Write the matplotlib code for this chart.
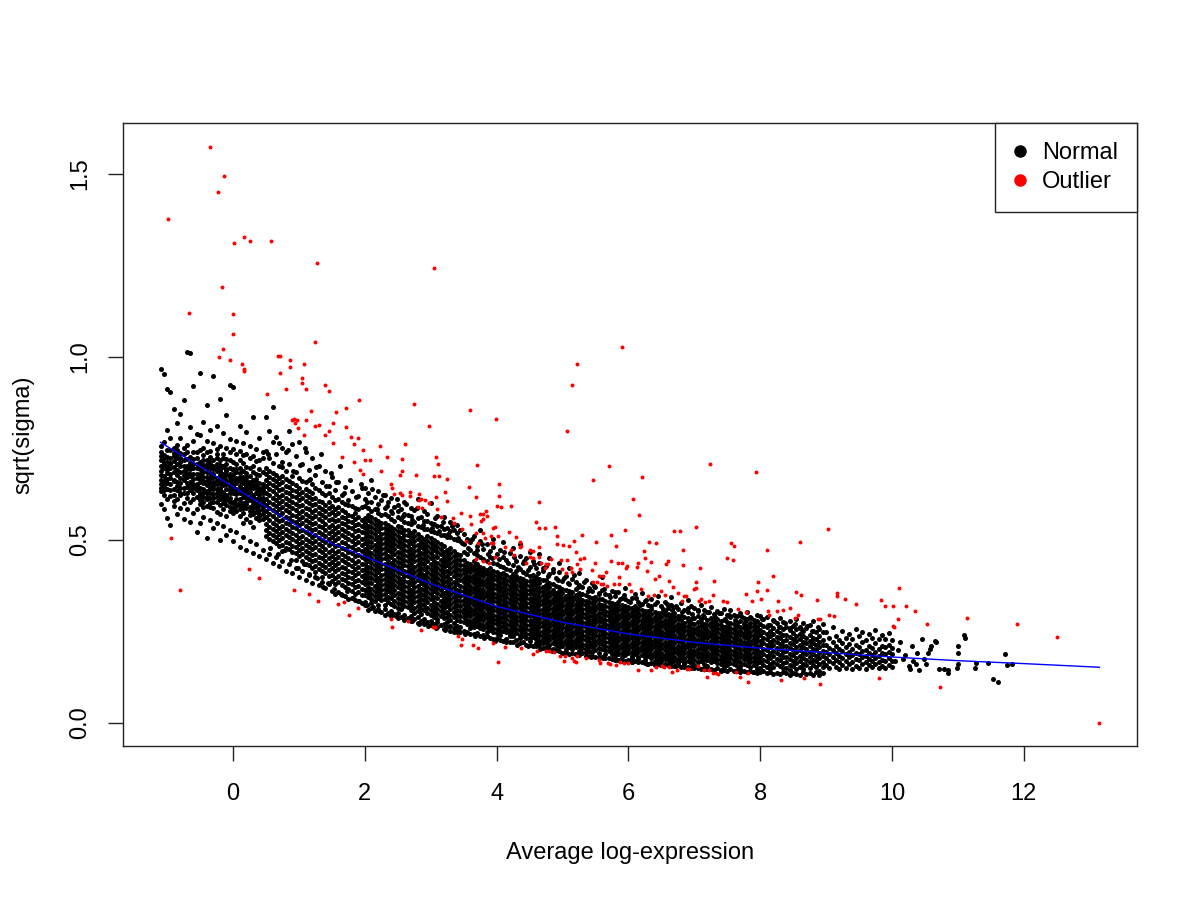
import matplotlib
matplotlib.use("Agg")
import matplotlib.pyplot as plt
from matplotlib.lines import Line2D

plt.rcParams["font.family"] = ["Liberation Sans", "DejaVu Sans"]

# ---- normal genes (y in 1/1000) ----
cols_a_x = [-1.10, -1.05, -1.00, -0.95, -0.90, -0.85, -0.80, -0.75, -0.70, -0.65, -0.60, -0.55]
cols_a_y = [
    [652, 718, 689, 741, 633, 967, 702, 664, 598, 757, 676, 729, 641],
    [675, 623, 731, 695, 952, 648, 584, 709, 766, 660, 699, 637, 722],
    [611, 744, 683, 702, 656, 801, 913, 559, 727, 638, 665, 712, 690],
    [697, 652, 778, 619, 724, 903, 541, 668, 711, 746, 681, 636, 708],
    [640, 715, 684, 593, 752, 857, 662, 729, 607, 699, 661, 737, 622],
    [723, 658, 612, 691, 819, 744, 636, 677, 571, 760, 706, 648, 733],
    [669, 701, 627, 843, 738, 586, 654, 712, 779, 621, 686, 642, 724],
    [688, 642, 719, 881, 663, 601, 735, 676, 558, 752, 701, 665, 627],
    [654, 1014, 697, 628, 721, 583, 671, 759, 702, 615, 683, 739, 644],
    [711, 1011, 637, 674, 548, 692, 808, 726, 659, 602, 698, 646, 681],
    [628, 919, 681, 706, 574, 653, 739, 695, 612, 770, 667, 721, 641],
    [669, 617, 722, 521, 648, 789, 697, 583, 741, 636, 681, 706, 652],
]

cols_b_x = [-0.50, -0.45, -0.40, -0.35, -0.30, -0.25, -0.20, -0.15, -0.10, -0.05,
            0.00, 0.05, 0.10, 0.15, 0.20, 0.25, 0.30, 0.35, 0.40, 0.45]
cols_b_y = [
    [642, 598, 713, 681, 955, 623, 744, 547, 666, 702, 786, 610, 659, 671, 627, 692],
    [671, 617, 822, 640, 698, 562, 731, 655, 604, 718, 684, 752, 589, 629, 703, 660],
    [628, 686, 869, 593, 707, 650, 506, 739, 611, 672, 771, 634, 697, 661, 617, 718],
    [655, 714, 601, 683, 553, 742, 627, 800, 668, 589, 706, 641, 725, 669, 615, 695],
    [613, 947, 672, 638, 701, 531, 659, 764, 586, 692, 624, 719, 648, 680, 602, 656],
    [688, 603, 734, 651, 811, 577, 662, 706, 545, 627, 695, 616, 748, 640, 668, 722],
    [637, 884, 596, 676, 718, 499, 654, 611, 757, 689, 570, 641, 703, 667, 624, 690],
    [669, 612, 791, 630, 698, 538, 724, 649, 585, 681, 617, 733, 601, 657, 702, 627],
    [594, 842, 651, 707, 623, 513, 676, 752, 608, 639, 688, 565, 721, 664, 620, 694],
    [647, 603, 924, 681, 578, 718, 629, 776, 660, 527, 695, 614, 741, 637, 671, 589],
    [629, 918, 572, 665, 604, 747, 690, 496, 641, 713, 586, 655, 677, 601, 646, 692],
    [612, 686, 655, 521, 733, 598, 771, 640, 669, 579, 707, 626, 694, 663, 637, 591],
    [661, 583, 811, 628, 697, 479, 742, 604, 648, 719, 565, 682, 635, 611, 672, 594],
    [594, 709, 640, 763, 573, 655, 509, 687, 618, 731, 601, 668, 546, 628, 672, 586],
    [637, 795, 588, 671, 614, 734, 471, 652, 699, 557, 625, 683, 602, 648, 599, 662],
    [579, 658, 613, 757, 696, 496, 641, 568, 722, 630, 609, 675, 548, 590, 651, 627],
    [622, 834, 571, 684, 598, 728, 463, 649, 535, 663, 606, 701, 587, 618, 641, 575],
    [648, 560, 749, 603, 681, 489, 627, 590, 714, 641, 575, 666, 612, 602, 628, 657],
    [596, 777, 634, 553, 676, 615, 719, 457, 642, 581, 694, 609, 566, 621, 570, 655],
    [612, 557, 741, 637, 589, 686, 473, 651, 604, 723, 570, 629, 598, 581, 644, 613],
]

cols_c_x = [0.50, 0.55, 0.60, 0.65, 0.70, 0.75, 0.80, 0.85, 0.90, 0.95,
            1.00, 1.05, 1.10, 1.15, 1.20, 1.25, 1.30, 1.35, 1.40, 1.45,
            1.50, 1.55, 1.60, 1.65, 1.70, 1.75, 1.80, 1.85, 1.90, 1.95]
cols_c_y = [
    [510, 527, 544, 561, 578, 595, 612, 629, 646, 663, 680, 697, 447, 742, 836],
    [502, 519, 536, 553, 570, 587, 604, 621, 638, 655, 672, 689, 462, 722, 798],
    [496, 513, 530, 547, 564, 581, 598, 615, 632, 649, 666, 683, 436, 711, 862],
    [490, 507, 524, 541, 558, 575, 592, 609, 626, 643, 660, 677, 452, 733, 781],
    [482, 499, 516, 533, 550, 567, 584, 601, 618, 635, 652, 669, 428, 701, 764],
    [470, 487, 504, 521, 538, 555, 572, 589, 606, 623, 640, 657, 674, 441, 698, 752],
    [478, 495, 512, 529, 546, 563, 580, 597, 614, 631, 648, 665, 414, 689, 739],
    [474, 491, 508, 525, 542, 559, 576, 593, 610, 627, 644, 661, 433, 706, 797],
    [467, 484, 501, 518, 535, 552, 569, 586, 603, 620, 637, 654, 409, 675, 761],
    [446, 463, 480, 497, 514, 531, 548, 565, 582, 599, 616, 633, 650, 423, 684, 729],
    [455, 472, 489, 506, 523, 540, 557, 574, 591, 608, 625, 642, 398, 668, 768],
    [443, 460, 477, 494, 511, 528, 545, 562, 579, 596, 613, 630, 415, 661, 707],
    [435, 452, 469, 486, 503, 520, 537, 554, 571, 588, 605, 622, 639, 391, 658, 741],
    [430, 447, 464, 481, 498, 515, 532, 549, 566, 583, 600, 617, 634, 406, 662, 690],
    [424, 441, 458, 475, 492, 509, 526, 543, 560, 577, 594, 611, 628, 383, 653, 722],
    [411, 428, 445, 462, 479, 496, 513, 530, 547, 564, 581, 598, 615, 399, 641, 676],
    [420, 437, 454, 471, 488, 505, 522, 539, 556, 573, 590, 607, 377, 636, 702],
    [398, 415, 432, 449, 466, 483, 500, 517, 534, 551, 568, 585, 602, 386, 629, 657],
    [408, 425, 442, 459, 476, 493, 510, 527, 544, 561, 578, 595, 368, 622, 688],
    [400, 417, 434, 451, 468, 485, 502, 519, 536, 553, 570, 587, 604, 379, 628, 648],
    [388, 405, 422, 439, 456, 473, 490, 507, 524, 541, 558, 575, 592, 361, 617, 672],
    [380, 397, 414, 431, 448, 465, 482, 499, 516, 533, 550, 567, 584, 352, 609, 635],
    [385, 402, 419, 436, 453, 470, 487, 504, 521, 538, 555, 572, 589, 358, 612, 659],
    [376, 393, 410, 427, 444, 461, 478, 495, 512, 529, 546, 563, 580, 349, 603, 621],
    [372, 389, 406, 423, 440, 457, 474, 491, 508, 525, 542, 559, 576, 346, 598, 645],
    [365, 382, 399, 416, 433, 450, 467, 484, 501, 518, 535, 552, 569, 338, 596, 608],
    [361, 378, 395, 412, 429, 446, 463, 480, 497, 514, 531, 548, 565, 341, 592, 632],
    [353, 370, 387, 404, 421, 438, 455, 472, 489, 506, 523, 540, 557, 574, 335, 588],
    [357, 374, 391, 408, 425, 442, 459, 476, 493, 510, 527, 544, 561, 333, 585, 619],
    [350, 367, 384, 401, 418, 435, 452, 469, 486, 503, 520, 537, 554, 328, 589, 641],
]

cols_d_x = [2.00, 2.05, 2.10, 2.15, 2.20, 2.25, 2.30, 2.35, 2.40, 2.45,
            2.50, 2.55, 2.60, 2.65, 2.70, 2.75, 2.80, 2.85, 2.90, 2.95,
            3.00, 3.05, 3.10, 3.15, 3.20, 3.25, 3.30, 3.35, 3.40, 3.45]
cols_d_y = [
    [350, 364, 378, 392, 406, 420, 434, 448, 462, 476, 490, 504, 518, 532, 546, 560, 322, 331, 593, 612, 641],
    [343, 357, 371, 385, 399, 413, 427, 441, 455, 469, 483, 497, 511, 525, 539, 553, 567, 309, 586, 628],
    [339, 353, 367, 381, 395, 409, 423, 437, 451, 465, 479, 493, 507, 521, 535, 549, 563, 315, 327, 579, 603, 663],
    [333, 347, 361, 375, 389, 403, 417, 431, 445, 459, 473, 487, 501, 515, 529, 543, 557, 306, 584, 618],
    [341, 355, 369, 383, 397, 411, 425, 439, 453, 467, 481, 495, 509, 523, 537, 551, 312, 321, 574, 597, 632],
    [335, 349, 363, 377, 391, 405, 419, 433, 447, 461, 475, 489, 503, 517, 531, 545, 302, 568, 609],
    [323, 337, 351, 365, 379, 393, 407, 421, 435, 449, 463, 477, 491, 505, 519, 533, 547, 296, 311, 571, 588, 621],
    [331, 345, 359, 373, 387, 401, 415, 429, 443, 457, 471, 485, 499, 513, 527, 541, 301, 566, 604],
    [326, 340, 354, 368, 382, 396, 410, 424, 438, 452, 466, 480, 494, 508, 522, 536, 291, 305, 558, 579, 613],
    [320, 334, 348, 362, 376, 390, 404, 418, 432, 446, 460, 474, 488, 502, 516, 530, 297, 552, 589],
    [314, 328, 342, 356, 370, 384, 398, 412, 426, 440, 454, 468, 482, 496, 510, 524, 538, 287, 299, 561, 578, 596],
    [310, 324, 338, 352, 366, 380, 394, 408, 422, 436, 450, 464, 478, 492, 506, 520, 534, 288, 556, 584],
    [318, 332, 346, 360, 374, 388, 402, 416, 430, 444, 458, 472, 486, 500, 514, 528, 281, 294, 549, 571, 602],
    [316, 330, 344, 358, 372, 386, 400, 414, 428, 442, 456, 470, 484, 498, 512, 526, 286, 545, 569],
    [308, 322, 336, 350, 364, 378, 392, 406, 420, 434, 448, 462, 476, 490, 504, 518, 279, 292, 543, 566, 587],
    [301, 315, 329, 343, 357, 371, 385, 399, 413, 427, 441, 455, 469, 483, 497, 511, 525, 283, 548, 581],
    [305, 319, 333, 347, 361, 375, 389, 403, 417, 431, 445, 459, 473, 487, 501, 515, 274, 288, 538, 559, 612],
    [297, 311, 325, 339, 353, 367, 381, 395, 409, 423, 437, 451, 465, 479, 493, 507, 279, 534, 563],
    [307, 321, 335, 349, 363, 377, 391, 405, 419, 433, 447, 461, 475, 489, 503, 271, 283, 530, 551, 578],
    [301, 315, 329, 343, 357, 371, 385, 399, 413, 427, 441, 455, 469, 483, 497, 511, 276, 529, 552],
    [295, 309, 323, 337, 351, 365, 379, 393, 407, 421, 435, 449, 463, 477, 491, 505, 268, 279, 524, 547, 601],
    [289, 303, 317, 331, 345, 359, 373, 387, 401, 415, 429, 443, 457, 471, 485, 499, 271, 521, 542],
    [284, 298, 312, 326, 340, 354, 368, 382, 396, 410, 424, 438, 452, 466, 480, 494, 263, 275, 518, 539, 566],
    [292, 306, 320, 334, 348, 362, 376, 390, 404, 418, 432, 446, 460, 474, 488, 268, 514, 537],
    [286, 300, 314, 328, 342, 356, 370, 384, 398, 412, 426, 440, 454, 468, 482, 257, 269, 512, 529, 561],
    [276, 290, 304, 318, 332, 346, 360, 374, 388, 402, 416, 430, 444, 458, 472, 262, 508, 533],
    [282, 296, 310, 324, 338, 352, 366, 380, 394, 408, 422, 436, 450, 464, 478, 252, 264, 507, 524, 548],
    [274, 288, 302, 316, 330, 344, 358, 372, 386, 400, 414, 428, 442, 456, 470, 258, 503, 528],
    [266, 280, 294, 308, 322, 336, 350, 364, 378, 392, 406, 420, 434, 448, 462, 247, 254, 499, 518, 541],
    [263, 277, 291, 305, 319, 333, 347, 361, 375, 389, 403, 417, 431, 445, 459, 249, 497, 526],
]

cols_e_x = [3.50, 3.55, 3.60, 3.65, 3.70, 3.75, 3.80, 3.85, 3.90, 3.95,
            4.00, 4.05, 4.10, 4.15, 4.20, 4.25, 4.30, 4.35, 4.40, 4.45,
            4.50, 4.55, 4.60, 4.65, 4.70, 4.75, 4.80, 4.85, 4.90, 4.95,
            5.00, 5.05, 5.10, 5.15, 5.20, 5.25, 5.30, 5.35, 5.40, 5.45,
            5.50, 5.55, 5.60, 5.65, 5.70, 5.75, 5.80, 5.85, 5.90, 5.95,
            6.00, 6.05, 6.10, 6.15, 6.20, 6.25, 6.30, 6.35, 6.40, 6.45,
            6.50, 6.55, 6.60, 6.65, 6.70, 6.75, 6.80, 6.85, 6.90, 6.95]
cols_e_y = [
    [276, 288, 300, 312, 324, 336, 348, 360, 372, 384, 396, 408, 420, 432, 444, 251, 468, 489, 517],
    [270, 282, 294, 306, 318, 330, 342, 354, 366, 378, 390, 402, 414, 426, 438, 248, 461, 502],
    [267, 279, 291, 303, 315, 327, 339, 351, 363, 375, 387, 399, 411, 423, 435, 244, 258, 472, 495],
    [261, 273, 285, 297, 309, 321, 333, 345, 357, 369, 381, 393, 405, 417, 429, 441, 242, 464, 511],
    [265, 277, 289, 301, 313, 325, 337, 349, 361, 373, 385, 397, 409, 421, 433, 246, 459, 483],
    [259, 271, 283, 295, 307, 319, 331, 343, 355, 367, 379, 391, 403, 415, 427, 238, 452, 497, 526],
    [256, 268, 280, 292, 304, 316, 328, 340, 352, 364, 376, 388, 400, 412, 424, 240, 448, 476],
    [262, 274, 286, 298, 310, 322, 334, 346, 358, 370, 382, 394, 406, 418, 236, 249, 441, 488],
    [254, 266, 278, 290, 302, 314, 326, 338, 350, 362, 374, 386, 398, 410, 422, 233, 453, 469],
    [248, 260, 272, 284, 296, 308, 320, 332, 344, 356, 368, 380, 392, 404, 416, 229, 437, 481, 503],
    [245, 257, 269, 281, 293, 305, 317, 329, 341, 353, 365, 377, 389, 401, 413, 231, 434, 462],
    [251, 263, 275, 287, 299, 311, 323, 335, 347, 359, 371, 383, 395, 407, 227, 240, 429, 471],
    [252, 264, 276, 288, 300, 312, 324, 336, 348, 360, 372, 384, 396, 408, 225, 427, 452, 493],
    [247, 259, 271, 283, 295, 307, 319, 331, 343, 355, 367, 379, 391, 403, 230, 421, 446],
    [243, 255, 267, 279, 291, 303, 315, 327, 339, 351, 363, 375, 387, 399, 222, 236, 417, 464],
    [238, 250, 262, 274, 286, 298, 310, 322, 334, 346, 358, 370, 382, 394, 406, 220, 431, 478],
    [245, 257, 269, 281, 293, 305, 317, 329, 341, 353, 365, 377, 389, 401, 226, 414, 442],
    [241, 253, 265, 277, 289, 301, 313, 325, 337, 349, 361, 373, 385, 397, 218, 232, 419, 457, 489],
    [236, 248, 260, 272, 284, 296, 308, 320, 332, 344, 356, 368, 380, 392, 221, 411, 436],
    [232, 244, 256, 268, 280, 292, 304, 316, 328, 340, 352, 364, 376, 388, 214, 407, 449],
    [231, 243, 255, 267, 279, 291, 303, 315, 327, 339, 351, 363, 375, 387, 213, 224, 401, 426, 468],
    [234, 246, 258, 270, 282, 294, 306, 318, 330, 342, 354, 366, 378, 390, 211, 405, 441],
    [230, 242, 254, 266, 278, 290, 302, 314, 326, 338, 350, 362, 374, 386, 209, 219, 398, 422],
    [225, 237, 249, 261, 273, 285, 297, 309, 321, 333, 345, 357, 369, 381, 212, 394, 437, 462],
    [228, 240, 252, 264, 276, 288, 300, 312, 324, 336, 348, 360, 372, 205, 217, 389, 414],
    [221, 233, 245, 257, 269, 281, 293, 305, 317, 329, 341, 353, 365, 377, 207, 391, 428],
    [226, 238, 250, 262, 274, 286, 298, 310, 322, 334, 346, 358, 370, 201, 212, 383, 407, 451],
    [219, 231, 243, 255, 267, 279, 291, 303, 315, 327, 339, 351, 363, 203, 379, 419],
    [212, 224, 236, 248, 260, 272, 284, 296, 308, 320, 332, 344, 356, 198, 373, 396],
    [217, 229, 241, 253, 265, 277, 289, 301, 313, 325, 337, 349, 361, 196, 206, 371, 412, 438],
    [210, 222, 234, 246, 258, 270, 282, 294, 306, 318, 330, 342, 354, 192, 367, 388],
    [215, 227, 239, 251, 263, 275, 287, 299, 311, 323, 335, 347, 194, 203, 363, 401],
    [208, 220, 232, 244, 256, 268, 280, 292, 304, 316, 328, 340, 352, 189, 361, 379, 423],
    [213, 225, 237, 249, 261, 273, 285, 297, 309, 321, 333, 345, 191, 201, 358, 394],
    [206, 218, 230, 242, 254, 266, 278, 290, 302, 314, 326, 338, 350, 187, 366, 384],
    [211, 223, 235, 247, 259, 271, 283, 295, 307, 319, 331, 343, 186, 197, 355, 377, 409],
    [204, 216, 228, 240, 252, 264, 276, 288, 300, 312, 324, 336, 190, 352, 372],
    [202, 214, 226, 238, 250, 262, 274, 286, 298, 310, 322, 334, 184, 195, 348, 391],
    [197, 209, 221, 233, 245, 257, 269, 281, 293, 305, 317, 329, 182, 345, 368],
    [207, 219, 231, 243, 255, 267, 279, 291, 303, 315, 327, 183, 193, 341, 359, 382],
    [200, 212, 224, 236, 248, 260, 272, 284, 296, 308, 320, 332, 180, 344, 371],
    [205, 217, 229, 241, 253, 265, 277, 289, 301, 313, 325, 179, 190, 338, 356],
    [203, 215, 227, 239, 251, 263, 275, 287, 299, 311, 323, 181, 337, 363, 398],
    [198, 210, 222, 234, 246, 258, 270, 282, 294, 306, 318, 176, 188, 333, 352],
    [196, 208, 220, 232, 244, 256, 268, 280, 292, 304, 316, 178, 329, 349],
    [189, 201, 213, 225, 237, 249, 261, 273, 285, 297, 309, 321, 174, 328, 361],
    [194, 206, 218, 230, 242, 254, 266, 278, 290, 302, 314, 173, 184, 325, 346],
    [187, 199, 211, 223, 235, 247, 259, 271, 283, 295, 307, 319, 171, 331, 357],
    [192, 204, 216, 228, 240, 252, 264, 276, 288, 300, 312, 170, 181, 322, 341],
    [185, 197, 209, 221, 233, 245, 257, 269, 281, 293, 305, 168, 318, 337, 368],
    [190, 202, 214, 226, 238, 250, 262, 274, 286, 298, 310, 172, 316, 334],
    [183, 195, 207, 219, 231, 243, 255, 267, 279, 291, 303, 166, 177, 313, 342],
    [188, 200, 212, 224, 236, 248, 260, 272, 284, 296, 308, 169, 319, 351],
    [181, 193, 205, 217, 229, 241, 253, 265, 277, 289, 301, 165, 175, 311, 329],
    [186, 198, 210, 222, 234, 246, 258, 270, 282, 294, 167, 309, 326, 356],
    [179, 191, 203, 215, 227, 239, 251, 263, 275, 287, 299, 163, 172, 306, 333],
    [184, 196, 208, 220, 232, 244, 256, 268, 280, 292, 161, 305, 321],
    [177, 189, 201, 213, 225, 237, 249, 261, 273, 285, 297, 164, 311, 338],
    [182, 194, 206, 218, 230, 242, 254, 266, 278, 290, 159, 170, 303, 324],
    [175, 187, 199, 211, 223, 235, 247, 259, 271, 283, 295, 162, 301, 347],
    [180, 192, 204, 216, 228, 240, 252, 264, 276, 288, 158, 168, 299, 318],
    [174, 186, 198, 210, 222, 234, 246, 258, 270, 282, 294, 160, 306, 329],
    [171, 183, 195, 207, 219, 231, 243, 255, 267, 279, 291, 157, 297, 314],
    [177, 189, 201, 213, 225, 237, 249, 261, 273, 285, 156, 166, 295, 322, 344],
    [169, 181, 193, 205, 217, 229, 241, 253, 265, 277, 289, 155, 301, 316],
    [175, 187, 199, 211, 223, 235, 247, 259, 271, 283, 159, 163, 293, 311],
    [172, 184, 196, 208, 220, 232, 244, 256, 268, 280, 154, 291, 327],
    [166, 178, 190, 202, 214, 226, 238, 250, 262, 274, 152, 161, 289, 308],
    [170, 182, 194, 206, 218, 230, 242, 254, 266, 278, 153, 287, 303, 336],
    [164, 176, 188, 200, 212, 224, 236, 248, 260, 272, 151, 285, 319],
]

cols_f_x = [7.00, 7.05, 7.10, 7.15, 7.20, 7.25, 7.30, 7.35, 7.40, 7.45,
            7.50, 7.55, 7.60, 7.65, 7.70, 7.75, 7.80, 7.85, 7.90, 7.95]
cols_f_y = [
    [173, 185, 197, 209, 221, 233, 245, 257, 269, 150, 158, 287, 314],
    [167, 179, 191, 203, 215, 227, 239, 251, 263, 275, 149, 292, 305],
    [168, 180, 192, 204, 216, 228, 240, 252, 264, 276, 147, 284, 321],
    [162, 174, 186, 198, 210, 222, 234, 246, 258, 270, 151, 289, 309],
    [171, 183, 195, 207, 219, 231, 243, 255, 267, 146, 155, 281, 302],
    [165, 177, 189, 201, 213, 225, 237, 249, 261, 273, 148, 286, 317],
    [169, 181, 193, 205, 217, 229, 241, 253, 265, 144, 279, 297],
    [163, 175, 187, 199, 211, 223, 235, 247, 259, 271, 149, 284, 306],
    [160, 172, 184, 196, 208, 220, 232, 244, 256, 268, 143, 277, 299],
    [166, 178, 190, 202, 214, 226, 238, 250, 262, 145, 152, 281, 312],
    [158, 170, 182, 194, 206, 218, 230, 242, 254, 266, 142, 276, 294],
    [164, 176, 188, 200, 212, 224, 236, 248, 260, 146, 272, 288, 308],
    [161, 173, 185, 197, 209, 221, 233, 245, 257, 141, 271, 296],
    [156, 168, 180, 192, 204, 216, 228, 240, 252, 264, 143, 274, 291],
    [155, 167, 179, 191, 203, 215, 227, 239, 251, 263, 140, 148, 278, 301],
    [162, 174, 186, 198, 210, 222, 234, 246, 258, 142, 269, 286],
    [159, 171, 183, 195, 207, 219, 231, 243, 255, 139, 266, 283, 304],
    [153, 165, 177, 189, 201, 213, 225, 237, 249, 261, 141, 272, 289],
    [157, 169, 181, 193, 205, 217, 229, 241, 253, 138, 264, 281],
    [151, 163, 175, 187, 199, 211, 223, 235, 247, 137, 146, 262, 277, 296],
]

cols_g_x = [8.00, 8.05, 8.10, 8.15, 8.20, 8.25, 8.30, 8.35, 8.40, 8.45,
            8.50, 8.55, 8.60, 8.65, 8.70, 8.75, 8.80, 8.85, 8.90, 8.95]
cols_g_y = [
    [150, 165, 180, 195, 210, 225, 240, 255, 138, 271, 292],
    [158, 173, 188, 203, 218, 233, 248, 141, 266, 284],
    [154, 169, 184, 199, 214, 229, 244, 136, 263, 289],
    [162, 177, 192, 207, 222, 237, 252, 139, 147, 268],
    [152, 167, 182, 197, 212, 227, 242, 134, 259, 281],
    [160, 175, 190, 205, 220, 235, 250, 137, 272],
    [156, 171, 186, 201, 216, 231, 246, 133, 261, 287],
    [149, 164, 179, 194, 209, 224, 239, 140, 256, 276],
    [151, 166, 181, 196, 211, 226, 241, 135, 262],
    [159, 174, 189, 204, 219, 234, 132, 145, 253, 279],
    [155, 170, 185, 200, 215, 230, 245, 137, 266],
    [148, 163, 178, 193, 208, 223, 238, 134, 257, 283],
    [153, 168, 183, 198, 213, 228, 243, 131, 261],
    [161, 176, 191, 206, 221, 236, 139, 147, 252, 274],
    [157, 172, 187, 202, 217, 232, 133, 258],
    [150, 165, 180, 195, 210, 225, 240, 136, 268],
    [158, 173, 188, 203, 218, 233, 130, 251, 279],
    [154, 169, 184, 199, 214, 229, 138, 247],
    [162, 177, 192, 207, 222, 237, 132, 143, 256],
    [152, 167, 182, 197, 212, 227, 135, 249, 271],
]

cols_h_x = [9.00, 9.05, 9.10, 9.15, 9.20, 9.25, 9.30, 9.35, 9.40, 9.45,
            9.50, 9.55, 9.60, 9.65, 9.70, 9.75, 9.80, 9.85, 9.90, 9.95, 10.00]
cols_h_y = [
    [158, 176, 193, 214, 247], [149, 169, 187, 205, 231], [163, 181, 199, 222, 262],
    [153, 172, 190, 209, 238], [146, 166, 184, 201, 226], [159, 178, 196, 218, 251],
    [151, 170, 188, 207, 233], [162, 180, 194, 215, 244], [148, 167, 185, 203, 229],
    [156, 175, 192, 212, 257], [150, 171, 189, 208, 236], [161, 179, 197, 220, 248],
    [147, 165, 183, 200, 227], [157, 174, 191, 210, 242], [152, 169, 186, 205, 232],
    [160, 177, 195, 217, 254], [149, 167, 184, 202, 228], [155, 172, 190, 211, 239],
    [151, 168, 187, 206, 230], [158, 176, 193, 214, 245], [153, 170, 188, 204, 226],
]

# loose points along the upper and lower fringe of the cloud
fringe_x = [0.53, 0.61, 0.74, 0.83, 0.91, 1.02, 1.09, 1.17, 1.26, 1.34,
            1.41, 1.48, 1.56, 1.63, 1.69, 1.78, 1.86, 1.94, 2.03, 2.11,
            2.18, 2.27, 2.33, 2.42, 2.49, 2.58, 2.63, 2.72, 2.79, 2.88,
            2.94, 3.02, 3.07, 3.13, 3.19, 3.27, 3.33, 3.42, 3.48, 3.56,
            3.63, 3.71, 3.78, 3.87, 3.93, 4.04, 4.12, 4.18, 4.27, 4.33,
            4.42, 4.48, 4.57, 4.63, 4.71, 4.78, 4.86, 4.93, 5.03, 5.09,
            5.17, 5.24, 5.33, 5.39, 5.48, 5.56, 5.63, 5.72, 5.79, 5.88,
            5.94, 6.03, 6.11, 6.18, 6.27, 6.34, 6.43, 6.52, 6.58, 6.67,
            6.73, 6.82, 6.91, 6.97, 7.06, 7.13, 7.22, 7.31, 7.38, 7.47,
            7.53, 7.62, 7.71, 7.77, 7.86, 7.92, 8.03, 8.12, 8.21, 8.28,
            8.37, 8.46, 8.53, 8.62, 8.71, 8.79, 8.88,
            0.56, 0.68, 0.79, 0.88, 0.99, 1.07, 1.16, 1.27, 1.36, 1.44,
            1.53, 1.64, 1.73, 1.82, 1.91, 2.04, 2.13, 2.22, 2.36, 2.47,
            2.59, 2.71, 2.83, 2.96, 3.08, 3.21, 3.36, 3.52, 3.67, 3.81,
            3.97, 4.14, 4.31, 4.47, 4.66, 4.84, 5.02, 5.21, 5.43, 5.62,
            5.84, 6.06, 6.28, 6.49, 6.72, 6.94, 7.17, 7.41, 7.64, 7.89]
fringe_y = [0.735, 0.768, 0.712, 0.745, 0.688, 0.704, 0.752, 0.667, 0.698, 0.735,
            0.646, 0.683, 0.659, 0.702, 0.627, 0.664, 0.618, 0.651, 0.603, 0.639,
            0.584, 0.621, 0.592, 0.574, 0.611, 0.566, 0.598, 0.553, 0.587, 0.541,
            0.571, 0.532, 0.559, 0.523, 0.548, 0.517, 0.538, 0.506, 0.492, 0.478,
            0.503, 0.471, 0.489, 0.462, 0.451, 0.447, 0.468, 0.436, 0.452, 0.425,
            0.441, 0.418, 0.433, 0.409, 0.422, 0.402, 0.413, 0.389, 0.396, 0.381,
            0.403, 0.372, 0.386, 0.361, 0.374, 0.352, 0.366, 0.345, 0.358, 0.337,
            0.349, 0.331, 0.342, 0.323, 0.336, 0.318, 0.329, 0.312, 0.324, 0.307,
            0.318, 0.302, 0.313, 0.298, 0.309, 0.294, 0.304, 0.288, 0.299, 0.285,
            0.296, 0.281, 0.291, 0.276, 0.287, 0.272, 0.283, 0.268, 0.279, 0.263,
            0.274, 0.259, 0.270, 0.257, 0.266, 0.252, 0.261,
            0.478, 0.462, 0.471, 0.445, 0.424, 0.433, 0.405, 0.396, 0.372, 0.383,
            0.366, 0.352, 0.359, 0.341, 0.333, 0.322, 0.316, 0.305, 0.297, 0.291,
            0.284, 0.279, 0.271, 0.266, 0.259, 0.254, 0.247, 0.243, 0.236, 0.231,
            0.224, 0.221, 0.214, 0.209, 0.203, 0.197, 0.192, 0.187, 0.181, 0.177,
            0.172, 0.167, 0.162, 0.158, 0.155, 0.151, 0.147, 0.144, 0.142, 0.139]

# sparse high-expression tail of normal genes
tail_x = [10.05, 10.10, 10.12, 10.17, 10.20, 10.26, 10.27, 10.30, 10.32, 10.36,
          10.38, 10.41, 10.46, 10.48, 10.52, 10.55, 10.58, 10.60, 10.65, 10.67,
          10.71, 10.79, 10.85, 10.85, 10.99, 11.00, 11.00, 11.00, 11.10, 11.11,
          11.26, 11.28, 11.46, 11.54, 11.61, 11.72, 11.75, 11.83]
tail_y = [0.170, 0.200, 0.220, 0.175, 0.185, 0.155, 0.146, 0.210, 0.170, 0.161,
          0.190, 0.144, 0.228, 0.175, 0.160, 0.190, 0.203, 0.211, 0.225, 0.222,
          0.146, 0.148, 0.144, 0.136, 0.149, 0.161, 0.190, 0.211, 0.239, 0.231,
          0.150, 0.163, 0.163, 0.119, 0.112, 0.189, 0.157, 0.160]

# ---- outliers (red) ----
out_x = [
    -0.35, -0.13, -0.23, -0.99, 0.17, 0.02, 0.26, 0.57, 1.28, 3.05,
    -0.17, -0.67, 0.00, 0.00, 1.24, -0.15, -0.21, -0.04, 0.13, 0.17,
    0.16, 0.68, 0.71, 0.87, 0.87, 1.07, 0.72, 1.05, 1.05, 1.11,
    0.80, 0.52, 1.39, 1.46, 1.91, 2.74, 1.72, 1.57, 1.18, 0.89,
    0.92, 0.97, 1.11, 0.94, 0.98, 1.24, 1.31, 1.52, 1.71, 1.46, 2.97,
    1.08, 1.39, 1.79, 1.90, 1.51, 1.83, 2.23, 2.61, 1.65, 1.97,
    1.84, 2.01, 2.08, 2.34, 2.57, 3.08, 3.11, 1.93, 1.98, 2.24,
    2.57, 2.53, 2.77, 3.05, 3.12, 3.24, 2.40, 2.42, 2.44, 2.54,
    2.56, 2.69, 2.69, 2.82, 2.82, 2.85, 2.91, 2.97, 2.80, 2.87,
    3.08, 3.22, 3.24, 3.09, 3.34, 3.35, 3.46, 3.47, 3.16,
    -0.94, -0.80, 0.24, 0.40, 0.93, 1.15, 1.29, 1.59, 1.68, 1.76,
    1.89, 2.39, 2.41, 2.66, 2.85, 3.03, 3.06, 3.41, 3.46, 3.48,
    5.91, 5.22, 5.14, 3.59, 3.99, 5.07, 3.70, 5.71, 7.24, 7.93,
    5.47, 6.21, 3.58, 4.03, 3.69, 4.03, 6.07, 4.00, 4.07, 4.22,
    4.64, 6.16, 3.59, 3.75, 3.80, 3.84, 3.86, 3.79, 3.76, 3.61,
    4.60, 4.89, 5.95, 6.70, 6.79, 7.02, 3.94, 3.98, 4.64, 4.74,
    3.69, 3.79, 3.91, 4.02, 4.19, 4.29, 4.92, 5.30, 5.74, 3.83,
    3.53, 3.72, 3.92, 3.95, 4.36, 4.37, 4.51, 4.55, 4.64, 4.91,
    5.01, 5.10, 5.18, 5.21, 5.51, 5.81, 6.32, 6.42, 6.23, 6.25,
    6.83, 7.56, 7.61, 8.10, 8.61, 7.50, 7.59, 7.08, 8.19, 7.97,
    7.96, 8.10, 8.54, 8.62, 7.79, 7.87, 8.01, 8.27, 8.45, 8.34,
    8.25, 8.12, 8.14, 7.66, 7.78, 8.57, 8.53, 7.02, 7.00, 7.03,
    7.30, 6.83, 7.07, 7.10, 7.28, 7.43, 7.50, 7.16, 7.22, 6.82,
    6.85, 6.88, 6.62, 6.40, 6.47, 6.68, 6.76, 6.55, 6.50, 6.39,
    6.30, 6.57, 6.60, 6.35, 6.29, 6.14, 6.13, 6.19, 6.04, 5.96,
    5.98, 5.91, 5.84, 5.86, 5.78, 5.86, 6.01, 5.73, 5.66, 5.62,
    5.46, 5.53, 5.58, 5.61, 5.67, 5.49, 5.45, 5.55, 5.32, 5.27,
    5.26, 5.13, 5.14, 5.22, 5.00, 5.06, 5.07, 4.98, 4.83, 4.78,
    4.75, 4.73, 4.51, 4.55, 4.65, 4.67, 4.44, 4.22, 4.27, 4.13,
    4.36, 3.98, 3.89, 3.80, 3.69,
    3.64, 3.72, 3.95, 4.13, 4.02, 4.37, 4.55, 4.62, 4.75, 4.79,
    4.87, 4.97, 5.04, 5.02, 5.14, 5.21, 5.18, 5.22, 5.36, 5.55,
    5.57, 5.69, 5.72, 5.81, 5.87, 5.93, 5.99, 6.14, 6.35, 6.42,
    6.51, 6.54, 6.62, 6.66, 6.74, 6.89, 6.92, 7.06, 7.15, 7.19,
    7.23, 7.28, 7.33, 7.36, 7.63, 7.69, 7.82, 7.82, 8.32,
    9.03, 8.86, 9.16, 9.17, 9.29, 9.46, 9.84, 9.90, 10.01, 10.11,
    10.21, 10.35, 10.10, 10.01, 10.03, 10.53, 11.14, 11.90, 12.51, 9.05,
    9.12, 8.88, 8.91, 8.66, 8.91, 9.81, 10.73, 13.15,
]
out_y = [
    1.572, 1.492, 1.450, 1.375, 1.326, 1.311, 1.315, 1.317, 1.255, 1.243,
    1.190, 1.118, 1.117, 1.063, 1.039, 1.020, 0.999, 0.990, 0.981, 0.966,
    0.960, 1.003, 1.002, 0.992, 0.972, 0.981, 0.955, 0.942, 0.928, 0.912,
    0.912, 0.899, 0.923, 0.906, 0.881, 0.870, 0.859, 0.849, 0.853, 0.828,
    0.831, 0.828, 0.828, 0.819, 0.806, 0.811, 0.814, 0.819, 0.809, 0.798, 0.810,
    0.787, 0.786, 0.782, 0.777, 0.765, 0.762, 0.756, 0.762, 0.727, 0.745,
    0.713, 0.718, 0.718, 0.725, 0.721, 0.727, 0.708, 0.691, 0.680, 0.689,
    0.687, 0.678, 0.678, 0.675, 0.675, 0.666, 0.651, 0.641, 0.626, 0.627,
    0.623, 0.631, 0.620, 0.626, 0.610, 0.612, 0.610, 0.600, 0.589, 0.588,
    0.616, 0.630, 0.607, 0.583, 0.560, 0.545, 0.572, 0.529, 0.563,
    0.504, 0.362, 0.421, 0.396, 0.362, 0.353, 0.334, 0.326, 0.329, 0.296,
    0.314, 0.285, 0.261, 0.277, 0.253, 0.261, 0.261, 0.236, 0.213, 0.230,
    1.027, 0.980, 0.922, 0.855, 0.830, 0.798, 0.705, 0.702, 0.708, 0.686,
    0.664, 0.672, 0.645, 0.653, 0.618, 0.619, 0.612, 0.593, 0.589, 0.593,
    0.603, 0.569, 0.566, 0.570, 0.571, 0.578, 0.564, 0.558, 0.550, 0.543,
    0.548, 0.536, 0.528, 0.524, 0.524, 0.536, 0.532, 0.534, 0.533, 0.531,
    0.518, 0.518, 0.511, 0.511, 0.520, 0.507, 0.510, 0.513, 0.512, 0.506,
    0.497, 0.492, 0.492, 0.490, 0.493, 0.482, 0.471, 0.469, 0.480, 0.488,
    0.487, 0.484, 0.497, 0.468, 0.495, 0.484, 0.493, 0.491, 0.469, 0.451,
    0.471, 0.492, 0.482, 0.471, 0.494, 0.451, 0.446, 0.424, 0.400, 0.386,
    0.360, 0.364, 0.358, 0.350, 0.352, 0.334, 0.339, 0.334, 0.315, 0.308,
    0.305, 0.306, 0.294, 0.311, 0.304, 0.295, 0.287, 0.386, 0.367, 0.368,
    0.387, 0.430, 0.334, 0.337, 0.349, 0.334, 0.331, 0.331, 0.332, 0.332,
    0.347, 0.346, 0.387, 0.394, 0.400, 0.370, 0.356, 0.350, 0.359, 0.350,
    0.346, 0.435, 0.442, 0.440, 0.414, 0.438, 0.425, 0.366, 0.359, 0.422,
    0.429, 0.438, 0.437, 0.399, 0.380, 0.379, 0.378, 0.441, 0.411, 0.402,
    0.385, 0.386, 0.378, 0.378, 0.373, 0.438, 0.417, 0.402, 0.450, 0.447,
    0.419, 0.423, 0.411, 0.435, 0.419, 0.410, 0.446, 0.445, 0.447, 0.434,
    0.435, 0.424, 0.453, 0.451, 0.454, 0.437, 0.437, 0.473, 0.459, 0.479,
    0.479, 0.453, 0.437, 0.441, 0.447,
    0.214, 0.205, 0.219, 0.207, 0.167, 0.204, 0.189, 0.196, 0.196, 0.196,
    0.193, 0.184, 0.184, 0.168, 0.177, 0.166, 0.169, 0.184, 0.177, 0.172,
    0.163, 0.164, 0.160, 0.159, 0.165, 0.163, 0.164, 0.144, 0.144, 0.154,
    0.155, 0.154, 0.153, 0.138, 0.145, 0.147, 0.147, 0.155, 0.144, 0.125,
    0.144, 0.135, 0.136, 0.133, 0.138, 0.125, 0.135, 0.111, 0.117,
    0.529, 0.336, 0.355, 0.346, 0.337, 0.324, 0.336, 0.318, 0.318, 0.369,
    0.318, 0.305, 0.283, 0.266, 0.263, 0.269, 0.287, 0.271, 0.234, 0.296,
    0.291, 0.283, 0.283, 0.122, 0.105, 0.122, 0.097, 0.000,
]

# ---- fitted trend (blue) ----
trend_x = [-1.1, -0.5, 0.0, 0.5, 1.0, 1.5, 2.0, 3.0, 4.0, 5.0, 6.0, 7.0, 8.0, 9.0, 10.0, 11.0, 12.0, 13.15]
trend_y = [0.766, 0.700, 0.645, 0.590, 0.535, 0.490, 0.455, 0.380, 0.318, 0.275, 0.243, 0.220, 0.204, 0.192, 0.180, 0.170, 0.162, 0.152]

normal_x = []
normal_y = []
for xs, ys in [(cols_a_x, cols_a_y), (cols_b_x, cols_b_y), (cols_c_x, cols_c_y),
               (cols_d_x, cols_d_y), (cols_e_x, cols_e_y), (cols_f_x, cols_f_y),
               (cols_g_x, cols_g_y), (cols_h_x, cols_h_y)]:
    for cx, cy in zip(xs, ys):
        normal_x += [cx] * len(cy)
        normal_y += [v / 1000 for v in cy]
normal_x += fringe_x + tail_x
normal_y += fringe_y + tail_y

fig = plt.figure(figsize=(12, 9), dpi=100)
ax = fig.add_axes([123 / 1200, 1 - 746 / 900, 1014 / 1200, 623 / 900])

ax.scatter(normal_x, normal_y, s=13, c="black", marker="o", linewidths=0)
ax.scatter(out_x, out_y, s=8, c="red", marker="o", linewidths=0)
ax.plot(trend_x, trend_y, color="blue", lw=1.0)

ax.set_xlim(-1.67, 13.72)
ax.set_ylim(-0.063, 1.638)
ax.set_xticks([0, 2, 4, 6, 8, 10, 12])
ax.set_yticks([0.0, 0.5, 1.0, 1.5])
ax.set_yticklabels(["0.0", "0.5", "1.0", "1.5"])
ax.tick_params(axis="both", direction="out", length=11, width=1.0, labelsize=17, color="#222222")
ax.tick_params(axis="x", pad=16)
ax.tick_params(axis="y", pad=12, labelrotation=90)
for lbl in ax.get_yticklabels():
    lbl.set_va("center")
for sp in ax.spines.values():
    sp.set_linewidth(1.0)
    sp.set_color("#222222")

ax.text(0.5, (746 - 853) / 623, "Average log-expression", transform=ax.transAxes,
        ha="center", va="center", fontsize=17)
ax.text((23 - 123) / 1014, 0.5, "sqrt(sigma)", transform=ax.transAxes,
        ha="center", va="center", rotation=90, fontsize=17)

handles = [
    Line2D([], [], ls="none", marker="o", color="black", markersize=8),
    Line2D([], [], ls="none", marker="o", color="red", markersize=8),
]
leg = ax.legend(handles, ["Normal", "Outlier"], loc="upper right", borderaxespad=0,
                fontsize=17, fancybox=False, framealpha=1, edgecolor="#222222",
                handlelength=0.5, handletextpad=0.7, borderpad=0.8, labelspacing=0.3)
leg.get_frame().set_linewidth(1.0)

fig.savefig("out.png", dpi=100)
